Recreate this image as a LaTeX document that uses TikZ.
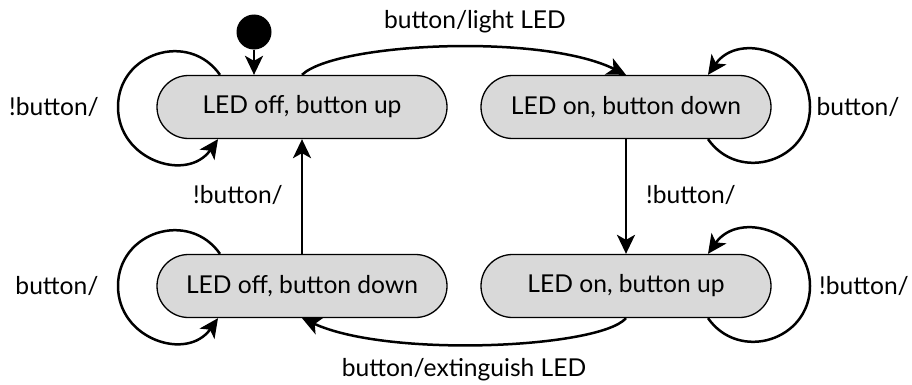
\documentclass[tikz,border=0pt]{standalone}
\usepackage{fontspec}
\setmainfont{Lato}
\usetikzlibrary{arrows.meta,shapes.misc}
\begin{document}
\begin{tikzpicture}[x=1pt,y=1pt,
  state/.style={rounded rectangle, draw=black, line width=1.3pt, fill=gray!30,
    minimum width=290pt, minimum height=63pt, inner sep=0pt, font=\fontsize{24.6}{29}\selectfont},
  lbl/.style={font=\fontsize{24.6}{29}\selectfont, inner sep=0pt},
  tr/.style={line width=2.5pt, -{Stealth[length=19pt,width=18pt,inset=5pt]}}]
\useasboundingbox (0,0) rectangle (912,384);
\node[state] (A) at (302,277) {LED off, button up};
\node[state] (B) at (626,277) {LED on, button down};
\node[state] (C) at (302,98) {LED off, button down};
\node[state] (D) at (626,98) {LED on, button up};
\node[circle, fill=black, minimum size=35pt, inner sep=0pt] (init) at (254,352) {};
% initial
\draw[tr] (init) -- (init|-A.north);
% A -> B
\draw[tr] (A.north) .. controls +(33,32) and +(-85,42) .. (B.north);
\node[lbl] (lab1) at (475,362) {button/light LED};
% B -> D
\draw[tr] (B.south) -- (D.north);
\node[lbl] (lab2) at (691,189) {!button/};
% D -> C
\draw[tr] (D.south) .. controls +(-26,-30) and +(87,-40) .. (C.south);
\node[lbl] (lab3) at (464,14) {button/extinguish LED};
% C -> A
\draw[tr] (C.north) -- (A.south);
\node[lbl] (lab4) at (238,189) {!button/};
% self loops
\coordinate (la) at ([xshift=-184]A.center);
\draw[tr] ([xshift=-82]A.north) to[out=125,in=90,looseness=1.3] (la) to[out=270,in=235,looseness=1.3] ([xshift=-84]A.south);
\node[lbl] (lab5) at (54,277) {!button/};
\coordinate (lc) at ([xshift=-184]C.center);
\draw[tr] ([xshift=-82]C.north) to[out=125,in=90,looseness=1.3] (lc) to[out=270,in=235,looseness=1.3] ([xshift=-84]C.south);
\node[lbl] (lab6) at (57,98) {button/};
\coordinate (lb) at ([xshift=184]B.center);
\draw[tr] ([xshift=82]B.south) to[out=-55,in=270,looseness=1.3] (lb) to[out=90,in=55,looseness=1.3] ([xshift=82]B.north);
\node[lbl] (lab7) at (858,277) {button/};
\coordinate (ld) at ([xshift=184]D.center);
\draw[tr] ([xshift=82]D.south) to[out=-55,in=270,looseness=1.3] (ld) to[out=90,in=55,looseness=1.3] ([xshift=82]D.north);
\node[lbl] (lab8) at (864,98) {!button/};
\end{tikzpicture}
\end{document}
